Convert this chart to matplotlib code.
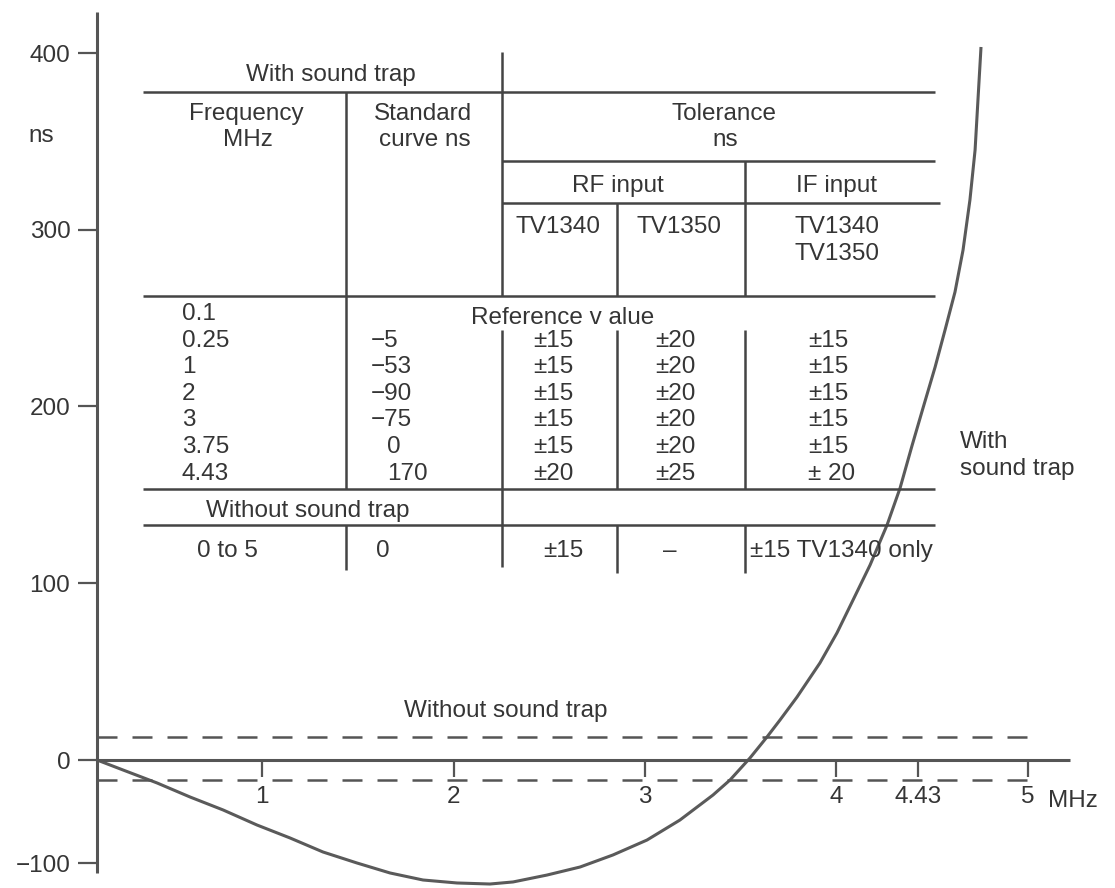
import numpy as np
import matplotlib
matplotlib.use("Agg")
import matplotlib.pyplot as plt
from matplotlib.lines import Line2D

# ---------------- data ----------------
# group delay curve "with sound trap" (MHz, ns)
curve_f = [0.136, 0.272, 0.450, 0.622, 0.795, 0.972, 1.145, 1.317, 1.495, 1.668,
           1.840, 2.018, 2.190, 2.311, 2.488, 2.661, 2.833, 3.011, 3.183, 3.356,
           3.445, 3.549, 3.638, 3.706, 3.795, 3.915, 4.004, 4.088, 4.177, 4.266,
           4.334, 4.396, 4.454, 4.517, 4.569, 4.621, 4.663, 4.699, 4.726, 4.741,
           4.757]
curve_ns = [0.0, -9.7, -22.3, -35.9, -48.5, -63.1, -75.7, -89.3, -100.0, -109.7,
            -116.5, -119.4, -120.4, -118.4, -111.7, -103.9, -92.2, -77.7, -58.3, -34.0,
            -19.4, 1.1, 13.0, 22.6, 35.6, 54.9, 71.9, 90.5, 110.3, 133.0,
            153.9, 177.7, 199.2, 222.3, 243.3, 264.8, 288.5, 316.8, 345.1, 373.4,
            403.4]
# tolerance band "without sound trap"
tol_upper = 13.0
tol_lower = -19.4
tol_f_end = 5.0

x_ticks = [1, 2, 3, 4, 4.43, 5]
x_ticklabels = ["1", "2", "3", "4", "4.43", "5"]
y_ticks = [-100, 0, 100, 200, 300, 400]
y_ticklabels = ["\u2212100", "0", "100", "200", "300", "400"]

# table contents
freq_rows = ["0.1", "0.25", "1", "2", "3", "3.75", "4.43"]
std_curve = ["", "\u22125", "\u221253", "\u221290", "\u221275", "0", "170"]
rf_tv1340 = ["", "\u00b115", "\u00b115", "\u00b115", "\u00b115", "\u00b115", "\u00b120"]
rf_tv1350 = ["", "\u00b120", "\u00b120", "\u00b120", "\u00b120", "\u00b120", "\u00b125"]
if_input = ["", "\u00b115", "\u00b115", "\u00b115", "\u00b115", "\u00b115", "\u00b1 20"]
nst_row = ["0 to 5", "0", "\u00b115", "\u2013", "\u00b115 TV1340 only"]

# ---------------- style / layout ----------------
W, H = 1115, 888
TXT = "#353535"
LINE = "#555555"
TLINE = "#444444"
FS = 17.5
plt.rcParams["font.family"] = ["Liberation Sans", "DejaVu Sans"]

fig = plt.figure(figsize=(W / 100, H / 100), dpi=100)
ax = fig.add_axes([0, 0, 1, 1])
ax.patch.set_alpha(0)

k_neg = 103 / 176.75  # the drawing uses a compressed negative scale


def fwd(y):
    y = np.asarray(y, float)
    return np.where(y >= 0, y, y * k_neg)


def inv(t):
    t = np.asarray(t, float)
    return np.where(t >= 0, t, t / k_neg)


ax.set_yscale("function", functions=(fwd, inv))
px_per_mhz = 191.3
x0_px = 71
px_per_ns = 1.7675
y0_px = 760
ax.set_xlim(-x0_px / px_per_mhz, (W - x0_px) / px_per_mhz)
ax.set_ylim(float(inv((y0_px - H) / px_per_ns)), y0_px / px_per_ns)

axis_x = (97 - x0_px) / px_per_mhz
ax.spines["top"].set_visible(False)
ax.spines["right"].set_visible(False)
ax.spines["left"].set_position(("data", axis_x))
ax.spines["bottom"].set_position(("data", 0))
ax.spines["left"].set_bounds(float(inv((y0_px - 873) / px_per_ns)), (y0_px - 12) / px_per_ns)
ax.spines["bottom"].set_bounds(axis_x, (1070 - x0_px) / px_per_mhz)
for s in ("left", "bottom"):
    ax.spines[s].set_color(LINE)
    ax.spines[s].set_linewidth(2.2)
    ax.spines[s].set_capstyle("butt")

ax.set_xticks(x_ticks)
ax.set_xticklabels(x_ticklabels)
ax.set_yticks(y_ticks)
ax.set_yticklabels(y_ticklabels)
ax.tick_params(axis="x", direction="out", length=12, width=1.6, color=LINE,
               pad=7, labelsize=FS, labelcolor=TXT)
ax.tick_params(axis="y", direction="out", length=13.7, width=1.6, color=LINE,
               pad=5.5, labelsize=FS, labelcolor=TXT)

# curve
ax.plot(curve_f, curve_ns, color="#5a5a5a", lw=2.2, solid_capstyle="butt",
        solid_joinstyle="round")
# dashed tolerance lines
lw_d = 1.8
ax.plot([axis_x, tol_f_end], [tol_upper, tol_upper], color=LINE, lw=lw_d,
        linestyle=(0, (14.4 / lw_d, 10.8 / lw_d)))
ax.plot([axis_x, tol_f_end], [tol_lower, tol_lower], color=LINE, lw=lw_d,
        linestyle=(0, (14.4 / lw_d, 10.8 / lw_d)))


# ---------------- helpers in pixel coordinates ----------------
def T(px, py, s, ha="left", va="baseline"):
    fig.text(px / W, 1 - py / H, s, ha=ha, va=va, fontsize=FS, color=TXT)


def hline(py, x1, x2):
    fig.add_artist(Line2D([x1 / W, x2 / W], [1 - py / H] * 2, transform=fig.transFigure,
                          color=TLINE, lw=1.8, solid_capstyle="butt"))


def vline(px, y1, y2):
    fig.add_artist(Line2D([px / W] * 2, [1 - y1 / H, 1 - y2 / H], transform=fig.transFigure,
                          color=TLINE, lw=1.8, solid_capstyle="butt"))


# axis annotations
T(28, 142, "ns")
T(1048, 807, "MHz")
T(960, 448, "With")
T(960, 475, "sound trap")
T(506, 717, "Without sound trap", ha="center")

# table rules
hline(92, 143, 935)
hline(161, 502, 935)
hline(203, 502, 940)
hline(296, 143, 935)
hline(489, 143, 935)
hline(525, 143, 935)
vline(346, 92, 489)
vline(346, 525, 570)
vline(502, 52, 296)
vline(502, 330, 567)
vline(617, 203, 296)
vline(617, 330, 489)
vline(617, 525, 573)
vline(745, 161, 296)
vline(745, 330, 489)
vline(745, 525, 573)

# table headers
T(331, 81, "With sound trap", ha="center")
T(246, 120, "Frequency", ha="center")
T(248, 146, "MHz", ha="center")
T(423, 120, "Standard", ha="center")
T(425, 146, "curve ns", ha="center")
T(724, 120, "Tolerance", ha="center")
T(725, 146, "ns", ha="center")
T(618, 192, "RF input", ha="center")
T(837, 192, "IF input", ha="center")
T(558, 233, "TV1340", ha="center")
T(679, 233, "TV1350", ha="center")
T(837, 233, "TV1340", ha="center")
T(837, 260, "TV1350", ha="center")

# table body
row_base = [320, 347, 373, 400, 426, 453, 480]
for i, yb in enumerate(row_base):
    T(182, yb, freq_rows[i])
    s = std_curve[i]
    if s:
        T(371 if s.startswith("\u2212") else 387, yb, s)
    if rf_tv1340[i]:
        T(533, yb, rf_tv1340[i])
        T(655, yb, rf_tv1350[i])
        T(808, yb, if_input[i])
T(563, 324, "Reference v alue", ha="center")

T(308, 517, "Without sound trap", ha="center")
T(197, 557, nst_row[0])
T(376, 557, nst_row[1])
T(543, 557, nst_row[2])
T(670, 557, nst_row[3], ha="center")
T(750, 557, nst_row[4])

fig.savefig("out.png", dpi=100, facecolor="white")
